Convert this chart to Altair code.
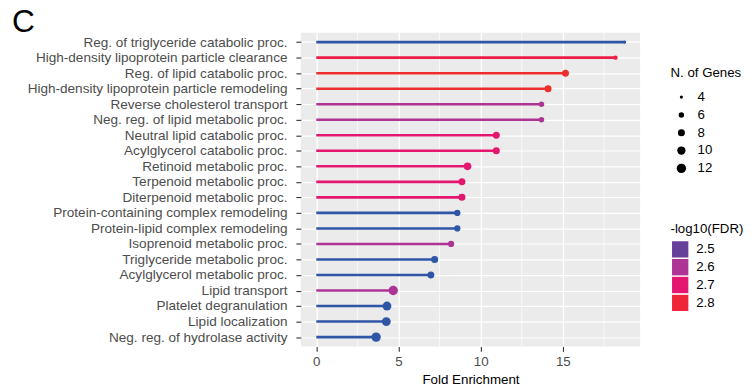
import altair as alt
import pandas as pd

terms = [
    "Reg. of triglyceride catabolic proc.",
    "High-density lipoprotein particle clearance",
    "Reg. of lipid catabolic proc.",
    "High-density lipoprotein particle remodeling",
    "Reverse cholesterol transport",
    "Neg. reg. of lipid metabolic proc.",
    "Neutral lipid catabolic proc.",
    "Acylglycerol catabolic proc.",
    "Retinoid metabolic proc.",
    "Terpenoid metabolic proc.",
    "Diterpenoid metabolic proc.",
    "Protein-containing complex remodeling",
    "Protein-lipid complex remodeling",
    "Isoprenoid metabolic proc.",
    "Triglyceride metabolic proc.",
    "Acylglycerol metabolic proc.",
    "Lipid transport",
    "Platelet degranulation",
    "Lipid localization",
    "Neg. reg. of hydrolase activity",
]
fold_enrichment = [18.76, 18.2, 15.16, 14.1, 13.7, 13.7, 10.95, 10.95, 9.2, 8.86,
                   8.86, 8.58, 8.58, 8.2, 7.2, 6.97, 4.68, 4.3, 4.26, 3.64]
n_genes = [4, 5, 8, 8, 6, 6, 8, 8, 9, 8, 8, 7, 7, 7, 8, 8, 12, 11, 11, 12]
neg_log10_fdr = [2.42, 2.78, 2.82, 2.82, 2.6, 2.6, 2.7, 2.7, 2.7, 2.7,
                 2.7, 2.42, 2.42, 2.6, 2.42, 2.42, 2.6, 2.42, 2.42, 2.42]

major_ticks = [0, 5, 10, 15]
minor_ticks = [2.5, 7.5, 12.5, 17.5]
size_legend_values = [4, 6, 8, 10, 12]
color_legend_values = [2.5, 2.6, 2.7, 2.8]

df = pd.DataFrame({
    "term": terms,
    "fe": fold_enrichment,
    "genes": n_genes,
    "fdr": neg_log10_fdr,
})
df["zero"] = 0.0

FONT = "Liberation Sans"
YFS = 13.7
XFS = 13.5
LFS = 13.4

xscale = alt.Scale(domain=[-0.94, 19.70], nice=False, zero=False)
yscale = alt.Scale(type="point", padding=0.6)
color_scale = alt.Scale(
    domain=[2.42, 2.5, 2.6, 2.7, 2.82],
    range=["#2E55A6", "#67409A", "#AD3495", "#E5166F", "#EE2E2E"],
)
size_scale = alt.Scale(domain=[4, 12], range=[10, 90], zero=False)

color_legend = alt.Legend(
    title="-log10(FDR)", type="symbol", values=color_legend_values,
    symbolType="square", symbolSize=225, symbolStrokeWidth=1.5,
    symbolStrokeColor="#EBEBEB", symbolOpacity=1,
    orient="none", legendX=373.7, legendY=191.5,
    titleFont=FONT, titleFontSize=LFS, titleFontWeight="normal", titleColor="black",
    labelFont=FONT, labelFontSize=LFS, labelColor="black",
    symbolOffset=1.3, labelOffset=7.7, rowPadding=0, clipHeight=17.5, titlePadding=5.3,
    padding=0,
)

y_enc = alt.Y(
    "term:N", sort=terms, scale=yscale, title=None,
    axis=alt.Axis(
        domain=False, grid=True, gridColor="white", gridWidth=1.2,
        tickColor="#333333", tickSize=5, tickWidth=1.1,
        labelFont=FONT, labelFontSize=YFS, labelColor="#4D4D4D", labelPadding=9,
        labelLimit=400,
    ),
)
x_axis = alt.Axis(
    values=major_ticks, domain=False, grid=True, gridColor="white", gridWidth=1.3,
    tickColor="#333333", tickSize=5, tickWidth=1.1,
    labelFont=FONT, labelFontSize=XFS, labelColor="#4D4D4D", labelPadding=3,
    title="Fold Enrichment", titleFont=FONT, titleFontSize=XFS, titleFontWeight="normal",
    titleColor="black", titlePadding=5.5,
)

minor = alt.Chart(pd.DataFrame({"v": minor_ticks})).mark_rule(
    color="white", strokeWidth=0.7
).encode(x=alt.X("v:Q", scale=xscale, axis=x_axis))

stems = alt.Chart(df).mark_rule(strokeWidth=2.6).encode(
    x=alt.X("zero:Q", scale=xscale, axis=x_axis),
    x2="fe:Q",
    y=y_enc,
    color=alt.Color("fdr:Q", scale=color_scale, legend=color_legend),
)

points = alt.Chart(df).mark_point(filled=True, opacity=1).encode(
    x=alt.X("fe:Q", scale=xscale, axis=x_axis),
    y=y_enc,
    color=alt.Color("fdr:Q", scale=color_scale, legend=color_legend),
    size=alt.Size(
        "genes:Q", scale=size_scale,
        legend=alt.Legend(
            title="N. of Genes", values=size_legend_values,
            symbolFillColor="black", symbolStrokeWidth=0, symbolOpacity=1,
            orient="none", legendX=373.7, legendY=34,
            titleFont=FONT, titleFontSize=LFS, titleFontWeight="normal", titleColor="black",
            labelFont=FONT, labelFontSize=LFS, labelColor="black",
            symbolOffset=4.3, labelOffset=9.7, rowPadding=0, clipHeight=18, titlePadding=8.6,
            padding=0,
        ),
    ),
)

chart = alt.layer(minor, stems, points).properties(
    width=343,
    height=317,
    autosize=alt.AutoSizeParams(type="none"),
    padding={"left": 296, "top": 23, "right": 106, "bottom": 43},
    title=alt.TitleParams(
        "C", anchor="start", frame="group", dx=-292, dy=7, offset=0,
        font=FONT, fontSize=32, fontWeight="normal", color="black",
        baseline="top",
    ),
).configure_view(fill="#EBEBEB", stroke=None)

chart.save("out.html", embed_options={"renderer": "svg", "actions": False})
